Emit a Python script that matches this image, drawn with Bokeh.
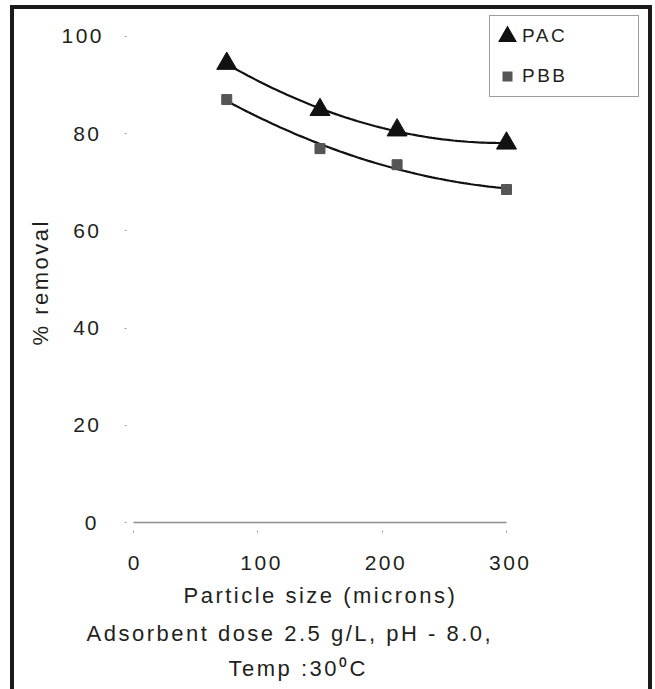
import numpy as np
from bokeh.plotting import figure
from bokeh.models import Range1d, FixedTicker, Legend, LegendItem, Title
from bokeh.embed import file_html
from bokeh.resources import INLINE

# ---- data ----
particle_size = [75, 150, 212, 300]
pac_removal = [94.4, 84.9, 80.7, 78.0]
pbb_removal = [87.0, 76.9, 73.6, 68.5]
x_ticks = [0, 100, 200, 300]
y_ticks = [0, 20, 40, 60, 80, 100]
series_names = ["PAC", "PBB"]
x_label = "Particle size (microns)"
y_label = "% removal"
note_lines = ["Adsorbent dose 2.5 g/L, pH - 8.0,", "Temp :30\u2070C"]

FONT = "Liberation Sans"
TXT = "#231f20"
BAR = "#1d1917"
W, H = 642, 684

# ranges extend past the axes only to leave room for the legend
p = figure(width=W, height=H, output_backend="svg", toolbar_location=None,
           x_range=Range1d(0, 411), y_range=Range1d(0, 104.7),
           min_border_left=119, min_border_right=12,
           min_border_top=4, min_border_bottom=171)
p.outline_line_color = None
p.grid.visible = False
p.background_fill_color = "white"
p.border_fill_color = "white"
p.styles = {"letter-spacing": "2.5px",
            "margin-left": "10px", "margin-top": "5px",
            "border-left": f"4px solid {BAR}",
            "border-top": f"4px solid {BAR}",
            "border-right": f"4px solid {BAR}"}

# x axis
xa = p.xaxis[0]
xa.bounds = (0, 300)
xa.ticker = FixedTicker(ticks=x_ticks)
xa.axis_line_color = "#8c8c8c"
xa.axis_line_width = 1.5
xa.major_tick_in = -8
xa.major_tick_out = 10
xa.major_tick_line_color = "#9a9a9a"
xa.minor_tick_line_color = None
xa.major_label_standoff = 23
xa.major_label_text_font = FONT
xa.major_label_text_font_size = "21px"
xa.major_label_text_color = TXT

# y axis
ya = p.yaxis[0]
ya.bounds = (0, 100)
ya.ticker = FixedTicker(ticks=y_ticks)
ya.axis_line_color = None
ya.major_tick_in = -7
ya.major_tick_out = 9
ya.major_tick_line_color = "#9a9a9a"
ya.minor_tick_line_color = None
ya.major_label_standoff = 28
ya.major_label_text_font = FONT
ya.major_label_text_font_size = "21px"
ya.major_label_text_color = TXT

# trend curves (quadratic fits of the measured points)
xs = np.linspace(min(particle_size), max(particle_size), 80)
for vals in (pac_removal, pbb_removal):
    c = np.polyfit(particle_size, vals, 2)
    p.line(xs, np.polyval(c, xs), line_color="#111111", line_width=2.2)

p.scatter(particle_size, pac_removal, marker="triangle", size=20,
          fill_color="#111111", line_color="#111111")
p.scatter(particle_size, pbb_removal, marker="square", size=10,
          fill_color="#555555", line_color="#555555")

# legend (dedicated legend glyphs, nothing drawn in the plot area)
leg_pac = p.scatter([np.nan], [np.nan], marker="triangle", size=10,
                    fill_color="#111111", line_color="#111111",
                    line_width=4, line_join="miter")
leg_pbb = p.scatter([np.nan], [np.nan], marker="square", size=10,
                    fill_color="#555555", line_color="white", line_width=2)
legend = Legend(items=[LegendItem(label=series_names[0], renderers=[leg_pac]),
                       LegendItem(label=series_names[1], renderers=[leg_pbb])],
                location=(356, 425), orientation="vertical",
                glyph_width=30, glyph_height=36, label_height=36,
                spacing=4, padding=2, margin=0, label_standoff=0,
                label_width=114,
                label_text_font=FONT, label_text_font_size="19px",
                label_text_color=TXT,
                border_line_color="#3a3a3a", border_line_width=1,
                background_fill_color="white", background_fill_alpha=1)
p.add_layout(legend, "center")

# axis titles and notes (left-anchored so they sit where the original does)
def side_text(txt, side, offset, standoff):
    p.add_layout(Title(text=txt, align="left", offset=offset,
                       text_font=FONT, text_font_size="22px",
                       text_font_style="normal", text_color=TXT,
                       standoff=standoff), side)

side_text(y_label, "left", 177, 11)
side_text(x_label, "below", 50, 16)
side_text(note_lines[0], "below", -47, 7)
side_text(note_lines[1], "below", 95, 8)

open("out.html", "w").write(file_html(p, INLINE))
